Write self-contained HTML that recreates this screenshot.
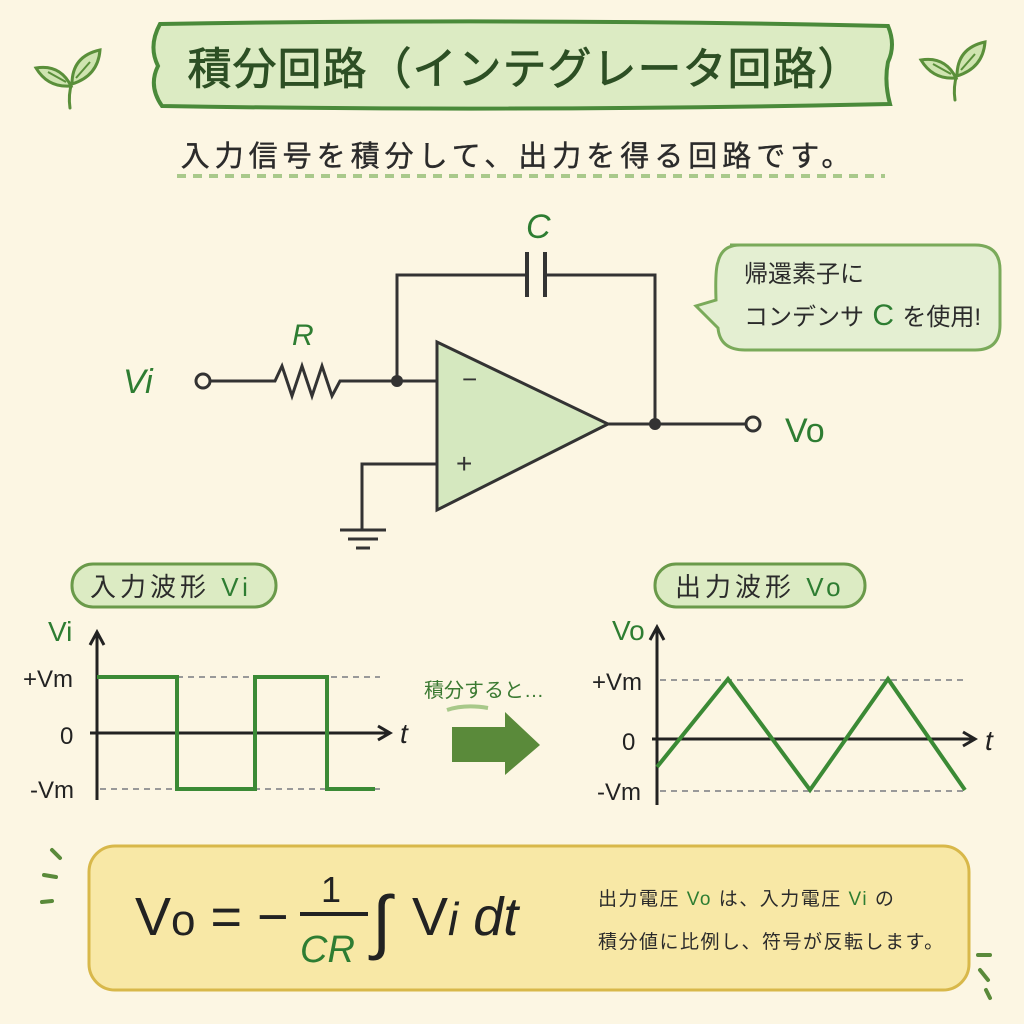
<!DOCTYPE html>
<html><head><meta charset="utf-8"><style>
html,body{margin:0;padding:0;background:#fcf6e3;}
svg{display:block;}
text{font-family:"Liberation Sans","Noto Sans CJK JP",sans-serif;}
</style></head><body>
<svg width="1024" height="1024" viewBox="0 0 1024 1024" xmlns="http://www.w3.org/2000/svg">
<rect width="1024" height="1024" fill="#fcf6e3"/>
<defs>
<g id="leaf">
<path d="M0 38 Q-2 25 2 12" stroke="#5a8f3a" stroke-width="3" fill="none" stroke-linecap="round"/>
<path d="M1 16 Q-10 -6 -34 -2 Q-22 18 1 16Z" fill="#cfe4b0" stroke="#5a8f3a" stroke-width="3"/>
<path d="M2 14 Q2 -14 30 -20 Q28 6 2 14Z" fill="#cfe4b0" stroke="#5a8f3a" stroke-width="3"/>
<path d="M-4 12 L-22 2 M6 8 L20 -8" stroke="#5a8f3a" stroke-width="2"/>
</g>
</defs>
<use href="#leaf" x="70" y="70"/>
<use href="#leaf" x="955" y="62"/>
<!-- title banner -->
<path d="M160 24 Q520 18 888 26 Q896 45 888 62 Q884 82 890 104 Q520 112 162 106 Q148 86 158 66 Q148 46 160 24Z" fill="#dcebc3" stroke="#4a8a3a" stroke-width="4"/>
<text x="525" y="84" text-anchor="middle" font-size="44" fill="#2d4f24" stroke="#2d4f24" stroke-width="0.8" letter-spacing="1">積分回路（インテグレータ回路）</text>
<text x="518" y="166" text-anchor="middle" font-size="29" fill="#2b2b2b" stroke="#2b2b2b" stroke-width="0.4" letter-spacing="5">入力信号を積分して、出力を得る回路です。</text>
<line x1="177" y1="176" x2="885" y2="176" stroke="#a9c98b" stroke-width="4" stroke-dasharray="9,7"/>
<!-- circuit -->
<g stroke="#333" stroke-width="3" fill="none">
<circle cx="203" cy="381" r="7" fill="#fcf6e3"/>
<path d="M210 381 H275 L282 366 L292 396 L302 366 L312 396 L322 366 L332 396 L340 381 H437"/>
<path d="M397 381 V275 H527 M545 275 H655 V424"/>
<path d="M527 252 V297 M545 252 V297" stroke-width="4"/>
<path d="M608 424 H745"/>
<circle cx="753" cy="424" r="7" fill="#fcf6e3"/>
<path d="M437 464 H362 V530 M340 530 H386 M348 539 H378 M356 548 H370"/>
<path d="M437 342 L437 510 L608 424Z" fill="#d5e8bf"/>
</g>
<circle cx="397" cy="381" r="6" fill="#333"/>
<circle cx="655" cy="424" r="6" fill="#333"/>
<text x="462" y="388" font-size="26" fill="#333">−</text>
<text x="456" y="473" font-size="28" fill="#333">+</text>
<text x="123" y="393" font-size="34" fill="#2e7d32" font-style="italic">Vi</text>
<text x="785" y="442" font-size="34" fill="#2e7d32">Vo</text>
<text x="526" y="238" font-size="34" fill="#2e7d32" font-style="italic">C</text>
<text x="292" y="345" font-size="30" fill="#2e7d32" font-style="italic">R</text>
<!-- bubble -->
<path d="M730 245 H975 Q1000 245 1000 270 V325 Q1000 350 975 350 H745 Q720 350 718 328 L696 306 L716 300 Q715 270 718 262 Q722 245 740 245Z" fill="#e4efd2" stroke="#7aaa5a" stroke-width="3"/>
<text x="744" y="282" font-size="24" fill="#2b2b2b">帰還素子に</text>
<text x="744" y="325" font-size="24" fill="#2b2b2b">コンデンサ<tspan fill="#2e7d32" font-size="30"> C </tspan>を使用!</text>
<!-- pills -->
<rect x="72" y="564" width="204" height="43" rx="21" fill="#dcebc3" stroke="#6a9a4a" stroke-width="3"/>
<text x="90" y="596" font-size="26" fill="#2b2b2b" letter-spacing="4">入力波形 <tspan fill="#2e7d32">Vi</tspan></text>
<rect x="655" y="564" width="210" height="43" rx="21" fill="#dcebc3" stroke="#6a9a4a" stroke-width="3"/>
<text x="675" y="596" font-size="26" fill="#2b2b2b" letter-spacing="4">出力波形 <tspan fill="#2e7d32">Vo</tspan></text>
<!-- graphs -->
<g stroke="#999" stroke-width="2" stroke-dasharray="6,5"><line x1="100" y1="677" x2="380" y2="677"/><line x1="100" y1="789" x2="380" y2="789"/>
<line x1="660" y1="680" x2="965" y2="680"/><line x1="660" y1="791" x2="965" y2="791"/></g>
<g stroke="#222" stroke-width="3" fill="none">
<path d="M97 800 V632 M90 645 L97 632 L104 645"/>
<path d="M90 733 H390 M378 726 L390 733 L378 740"/>
<path d="M657 805 V627 M650 640 L657 627 L664 640"/>
<path d="M652 739 H975 M963 732 L975 739 L963 746"/>
</g>
<path d="M97 677 H177 V789 H255 V677 H327 V789 H375" stroke="#3b8a35" stroke-width="4" fill="none"/>
<path d="M657 767 L728 679 L810 790 L888 679 L965 790" stroke="#3b8a35" stroke-width="4" fill="none"/>
<text x="48" y="641" font-size="28" fill="#2e7d32">Vi</text>
<text x="23" y="687" font-size="24" fill="#222">+Vm</text>
<text x="60" y="744" font-size="24" fill="#222">0</text>
<text x="30" y="798" font-size="24" fill="#222">-Vm</text>
<text x="400" y="743" font-size="28" fill="#222" font-style="italic">t</text>
<text x="612" y="640" font-size="28" fill="#2e7d32">Vo</text>
<text x="592" y="690" font-size="24" fill="#222">+Vm</text>
<text x="622" y="750" font-size="24" fill="#222">0</text>
<text x="597" y="800" font-size="24" fill="#222">-Vm</text>
<text x="985" y="750" font-size="28" fill="#222" font-style="italic">t</text>
<!-- arrow -->
<text x="424" y="697" font-size="20" fill="#3b7a32">積分すると…</text>
<path d="M447 710 Q465 704 488 708" stroke="#a8c98a" stroke-width="4" fill="none"/>
<path d="M452 727 H505 V712 L540 745 L505 775 V762 H452Z" fill="#5a8a3a"/>
<!-- formula box -->
<g stroke="#5a8a3a" stroke-width="4" stroke-linecap="round">
<path d="M52 850 L60 858 M44 875 L56 877 M42 902 L52 901"/>
<path d="M978 955 L990 955 M980 970 L988 980 M986 990 L990 998"/>
</g>
<rect x="89" y="846" width="880" height="144" rx="26" fill="#f8e8a6" stroke="#d8b84a" stroke-width="3"/>
<text x="135" y="935" font-size="54" fill="#222">V<tspan font-size="44">o</tspan> = −</text>
<text x="321" y="902" font-size="36" fill="#222">1</text>
<line x1="300" y1="914" x2="368" y2="914" stroke="#222" stroke-width="4"/>
<text x="300" y="962" font-size="38" fill="#2e7d32" font-style="italic">CR</text>
<text x="372" y="945" font-size="70" fill="#222" font-style="italic">∫</text>
<text x="412" y="935" font-size="54" fill="#222">V<tspan font-style="italic" font-size="46">i</tspan><tspan font-style="italic"> dt</tspan></text>
<text x="598" y="905" font-size="19" fill="#2b2b2b" letter-spacing="1.5">出力電圧 <tspan fill="#2e7d32">Vo</tspan> は、入力電圧 <tspan fill="#2e7d32">Vi</tspan> の</text>
<text x="598" y="948" font-size="19" fill="#2b2b2b" letter-spacing="1.5">積分値に比例し、符号が反転します。</text>
</svg>
</body></html>
